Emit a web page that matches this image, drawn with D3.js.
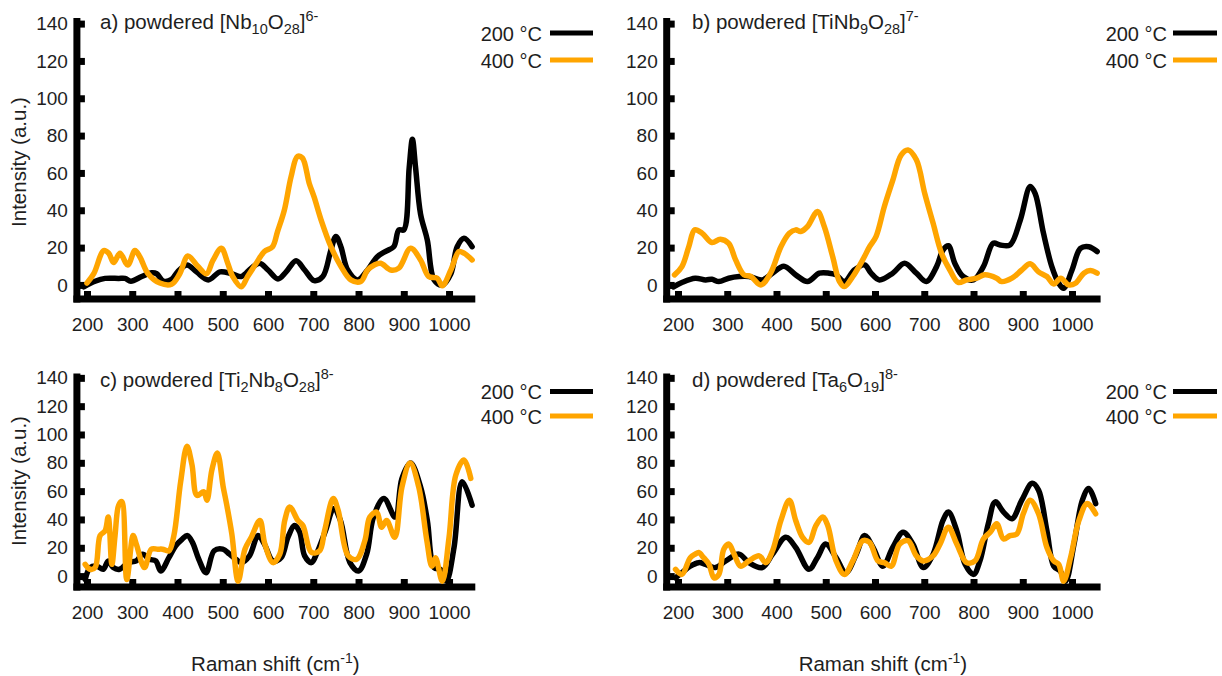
<!DOCTYPE html>
<meta charset="utf-8">
<style>
body {
  margin: 0;
  background: #fff;
  font-family: 'Liberation Sans', Arial, sans-serif;
}

text {
  fill: #1e1e1e;
}

.axis path {
  display: none;
}

.axis line {
  stroke: #000;
  stroke-width: 7px;
}

.axis text {
  font-size: 19px;
  fill: #1e1e1e;
}

.frame {
  stroke: #000;
  stroke-width: 7px;
}

.data-line {
  fill: none;
  stroke-width: 5.5px;
  stroke-linejoin: round;
  stroke-linecap: round;
}

.panel-title {
  font-size: 20.5px;
}

.legend-text {
  font-size: 20px;
  text-anchor: end;
}

.axis-title {
  font-size: 20.5px;
  text-anchor: middle;
}
</style>
<body>
<svg width="1222" height="676"></svg>
<script src="https://d3js.org/d3.v7.min.js"></script>
<script>
// tick values and labels
var xTicks = [200, 300, 400, 500, 600, 700, 800, 900, 1000];
var yTicks = [0, 20, 40, 60, 80, 100, 120, 140];
var legendLabels = ["200 °C", "400 °C"];
var yTitle = "Intensity (a.u.)";
var xTitle = ["Raman shift (cm", "-1", ")"];

// panel titles: [text, kind]
var titleA = [["a) powdered [Nb", "n"], ["10", "sub"], ["O", "n"], ["28", "sub"], ["]", "n"], ["6-", "sup"]];
var titleB = [["b) powdered [TiNb", "n"], ["9", "sub"], ["O", "n"], ["28", "sub"], ["]", "n"], ["7-", "sup"]];
var titleC = [["c) powdered [Ti", "n"], ["2", "sub"], ["Nb", "n"], ["8", "sub"], ["O", "n"], ["28", "sub"], ["]", "n"], ["8-", "sup"]];
var titleD = [["d) powdered [Ta", "n"], ["6", "sub"], ["O", "n"], ["19", "sub"], ["]", "n"], ["8-", "sup"]];

// spectra: [Raman shift, intensity]
var nb10_200 = [[193,-1],[218,2],[240,3.5],[270,3.5],[284,3.5],[297,2],[321,4.5],[343,6.5],[354,6],[369,2],[387,3],[400,7],[421,10.7],[442,7],[468,2.7],[494,7],[519,6],[541,4.5],[563,9],[581,11.6],[600,8],[622,3.2],[640,7],[662,13],[681,8],[702,2.3],[721,4.5],[739,18.7],[750,26],[761,20.5],[776,8],[798,2.7],[820,8],[841,15],[860,18],[878,20.5],[889,29.5],[900,29.5],[912,63],[919,78],[926,63],[937,38],[952,24],[967,2.7],[985,0],[1004,6],[1018,20.5],[1033,25],[1051,20.5]];
var nb10_400 = [[200,1],[215,6],[237,18.4],[248,17],[259,12],[273,17],[290,10.7],[306,18.4],[317,15],[335,6],[361,1],[387,0.4],[405,6],[423,15.5],[445,10],[464,6],[478,13],[497,19.6],[511,11.6],[522,4.5],[541,-1],[555,4.5],[574,11.6],[592,17.9],[610,20.5],[621,28.6],[636,40],[651,58],[665,68.8],[676,68],[691,54.5],[702,47],[717,35],[739,20.5],[761,10],[783,2.7],[805,1.8],[820,8],[835,10.7],[849,11.6],[871,8],[889,9],[915,19.6],[937,13.4],[955,4.5],[974,3.6],[985,-0.5],[1004,8],[1022,17.9],[1033,17],[1051,13.4]];

var tinb9_200 = [[191,-1],[208,1.3],[235,3.6],[256,2.7],[269,3],[283,1.8],[303,3.6],[324,4.5],[344,4.5],[371,2.7],[392,6.3],[415,10],[439,5.4],[463,1.8],[487,6.3],[507,6.3],[521,5.4],[538,1.8],[558,8],[579,10.7],[592,6.3],[609,2.7],[636,6.3],[660,11.6],[684,6.3],[704,1.8],[725,9.8],[738,18.7],[749,21],[762,11.6],[779,4.5],[800,2.7],[820,9.8],[840,22.3],[854,21.4],[874,21.4],[895,34.8],[915,52.7],[925,49],[942,27.7],[959,9.8],[973,0.9],[983,-1.8],[1000,8],[1017,19.6],[1034,20.5],[1051,17.9]];
var tinb9_400 = [[193,5.4],[208,9.8],[222,20.5],[234,29.5],[249,27.7],[269,22.7],[286,24.5],[303,22.3],[317,13.4],[334,5.4],[348,4.5],[368,0],[388,6.3],[409,20.5],[426,27.7],[439,29.5],[449,28.6],[463,31.3],[483,39.3],[497,31.3],[514,15.2],[528,1.8],[538,-0.9],[555,4.5],[575,13.4],[589,20.5],[602,25.9],[619,42],[636,56],[653,69.6],[667,72.3],[684,67],[701,49],[718,33],[735,17],[752,8],[769,1.3],[786,2.7],[806,3.6],[823,5.4],[847,3.6],[857,1.8],[878,3.6],[898,8],[915,11.3],[932,7],[949,4.5],[963,0.5],[977,3.6],[993,0],[1007,0.9],[1024,6.3],[1037,7.7],[1051,6.3]];

var ti2nb8_200 = [[196,-2.4],[207,6],[222,7],[236,4.8],[247,10.7],[258,6],[272,4.8],[291,9.5],[309,10.7],[323,15.5],[338,11.9],[352,10.7],[363,3.6],[381,13],[396,21.4],[410,26],[422,28.6],[433,23.8],[447,11.9],[463,2.4],[481,17.9],[500,19],[515,15.5],[529,11.9],[541,9.5],[559,14.3],[578,28.6],[592,22.6],[611,10.7],[629,13],[644,27.4],[659,35.7],[670,31],[681,14.3],[696,9.5],[707,15.5],[727,32],[745,47.6],[760,39.3],[781,9.5],[800,3.6],[818,15.5],[833,41.7],[856,54.8],[881,41.7],[896,69],[915,79.8],[937,63],[952,39.3],[967,6],[981,4.8],[994,-3.6],[1011,20.2],[1029,66.7],[1051,50]];
var ti2nb8_400 = [[196,8.3],[207,4.8],[218,6],[229,28.6],[240,32],[247,41.7],[255,8.3],[262,28.6],[270,50],[277,52.6],[288,-2.4],[302,28.6],[309,22.6],[327,6],[342,19],[356,19],[367,19],[381,17.9],[392,28.6],[407,66.7],[421,91.7],[432,78.6],[443,57],[458,59.5],[465,53.6],[476,75],[488,86.9],[501,63],[509,50],[520,29.8],[534,-3.6],[549,19],[563,27.4],[582,39.3],[593,22.6],[611,9.5],[626,15.5],[637,39.3],[648,48.8],[666,39.3],[677,35.7],[696,16.7],[714,17.9],[725,32],[744,54.8],[755,46.4],[777,14.3],[796,11.9],[814,25],[825,41.7],[840,45.2],[851,34.5],[862,39.3],[880,27.4],[896,63],[914,79.8],[933,63],[951,25],[962,7],[970,13],[985,-3.6],[1000,27.4],[1015,71.4],[1033,82],[1048,69]];

var ta6_200 = [[195,-1.2],[208,2.4],[225,7],[242,9.5],[256,8.3],[276,6],[297,10.7],[324,15.5],[344,9.5],[371,6],[392,15.5],[419,27.4],[439,20.2],[466,4.8],[483,13],[500,22.6],[521,13],[541,2.4],[562,15.5],[579,28.6],[596,20.2],[616,7],[636,20.2],[657,31],[677,22.6],[698,6],[718,15.5],[738,39.3],[749,45.2],[766,32],[783,8.3],[800,1.2],[813,10.7],[830,36.9],[844,52.4],[861,45.2],[878,40.5],[898,53.6],[919,65.5],[932,60.7],[949,32],[963,7],[976,3.6],[987,-3.6],[1004,22.6],[1021,53.6],[1034,61.9],[1048,51.2]];
var ta6_400 = [[195,4.8],[208,1.2],[225,13],[235,15.5],[242,16.7],[252,13],[263,8.3],[273,-1.2],[283,1.2],[293,19],[303,22.6],[314,15.5],[327,7],[344,10.7],[365,14.3],[378,9.5],[392,17.9],[409,39.3],[426,53.6],[439,39.3],[453,27.4],[466,23.8],[480,35.7],[494,41.7],[504,35.7],[521,10.7],[538,1.2],[555,10.7],[575,25],[589,23.8],[606,10.7],[619,9.5],[633,7],[650,22.6],[667,25],[684,14.3],[698,10.7],[718,14.3],[732,22.6],[749,34.5],[766,22.6],[786,9.5],[803,10.7],[820,26.2],[834,31],[847,36.9],[861,26.2],[874,28.6],[888,29.8],[901,44],[915,53.6],[932,44],[949,20.2],[963,10.7],[973,8.3],[983,-3.6],[997,13],[1014,39.3],[1031,51.2],[1048,44]];

var seriesColors = ["#000000", "#FFA500"];

var svg = d3.select("svg");

var cols = [
  {left: 73.4, right: 475.3, titleX: 100, legendX: 542, lineX1: 550, lineX2: 593, yTitleX: 26},
  {left: 663.2, right: 1100.6, titleX: 692, legendX: 1167, lineX1: 1173, lineX2: 1217}
];
var rows = [
  {top: 18, bottom: 298, titleY: 29, legendY: [33, 60], yTitleY: 162},
  {top: 373.6, bottom: 586, titleY: 387, legendY: [391.5, 416], yTitleY: 481}
];

var panels = [
  {col: 0, row: 0, title: titleA, series: [nb10_200, nb10_400]},
  {col: 1, row: 0, title: titleB, series: [tinb9_200, tinb9_400]},
  {col: 0, row: 1, title: titleC, series: [ti2nb8_200, ti2nb8_400]},
  {col: 1, row: 1, title: titleD, series: [ta6_200, ta6_400]}
];

panels.forEach(function(p) {
  var c = cols[p.col], r = rows[p.row];
  var x = d3.scaleLinear().domain([170, 1058]).range([c.left, c.right]);
  var y = d3.scaleLinear().domain([-7, 143]).range([r.bottom, r.top]);
  var g = svg.append("g");

  // y axis ticks and labels
  g.append("g")
      .attr("class", "axis")
      .attr("transform", "translate(" + (c.left + 3.5) + ",0)")
      .call(d3.axisLeft(y).tickValues(yTicks).tickSizeInner(-8).tickSizeOuter(0).tickPadding(9));

  // x axis ticks and labels
  g.append("g")
      .attr("class", "axis")
      .attr("transform", "translate(0," + (r.bottom + 1) + ")")
      .call(d3.axisBottom(x).tickValues(xTicks).tickFormat(d3.format("d"))
        .tickSizeInner(-8).tickSizeOuter(0).tickPadding(19));

  // thick frame lines
  g.append("line").attr("class", "frame")
      .attr("x1", c.left + 3.5).attr("x2", c.left + 3.5)
      .attr("y1", r.top).attr("y2", r.bottom + 4.5);
  g.append("line").attr("class", "frame")
      .attr("x1", c.left).attr("x2", c.right)
      .attr("y1", r.bottom + 1).attr("y2", r.bottom + 1);

  var line = d3.line()
      .curve(d3.curveCatmullRom.alpha(0.5))
      .x(function(d) { return x(d[0]); })
      .y(function(d) { return y(d[1]); });

  p.series.forEach(function(s, i) {
    g.append("path")
        .datum(s)
        .attr("class", "data-line")
        .attr("stroke", seriesColors[i])
        .attr("d", line);
  });

  // title with sub/superscripts
  var t = g.append("text")
      .attr("class", "panel-title")
      .attr("x", c.titleX)
      .attr("y", r.titleY);
  var shift = 0;
  p.title.forEach(function(seg) {
    var target = seg[1] === "sub" ? 5 : seg[1] === "sup" ? -8 : 0;
    t.append("tspan")
        .attr("dy", target - shift)
        .attr("font-size", seg[1] === "n" ? null : "14.5px")
        .text(seg[0]);
    shift = target;
  });

  // legend
  legendLabels.forEach(function(lab, i) {
    var ly = r.legendY[i];
    g.append("text")
        .attr("class", "legend-text")
        .attr("x", c.legendX)
        .attr("y", ly + 7.5)
        .text(lab);
    g.append("line")
        .attr("x1", c.lineX1).attr("x2", c.lineX2)
        .attr("y1", ly).attr("y2", ly)
        .attr("stroke", seriesColors[i])
        .attr("stroke-width", 5);
  });

  if (p.col === 0) {
    g.append("text")
        .attr("class", "axis-title")
        .attr("transform", "translate(" + c.yTitleX + "," + r.yTitleY + ") rotate(-90)")
        .text(yTitle);
  }

  if (p.row === 1) {
    var xt = g.append("text")
        .attr("class", "axis-title")
        .attr("x", (c.left + c.right) / 2 + 1)
        .attr("y", 671);
    xt.append("tspan").text(xTitle[0]);
    xt.append("tspan").attr("dy", -8).attr("font-size", "14px").text(xTitle[1]);
    xt.append("tspan").attr("dy", 8).text(xTitle[2]);
  }
});
</script>
